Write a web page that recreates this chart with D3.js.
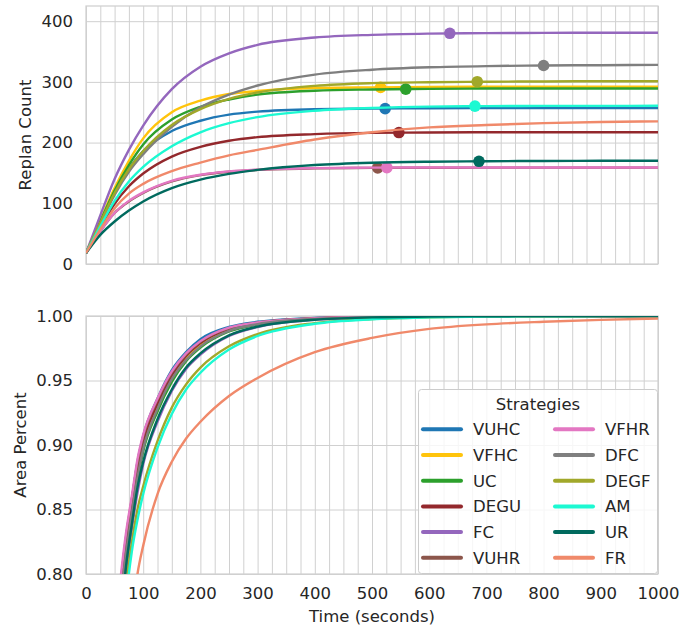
<!DOCTYPE html>
<html>
<head>
<meta charset="utf-8">
<script src="https://cdn.jsdelivr.net/npm/d3@7"></script>
<style>
  html, body { margin: 0; padding: 0; background: #ffffff; }
  svg { display: block; font-family: "DejaVu Sans", sans-serif; }
</style>
</head>
<body>
<svg id="chart" width="680" height="631"></svg>
<script>
// ---- data -------------------------------------------------------------
const strategies = ["VUHC", "VFHC", "UC", "DEGU", "FC", "VUHR", "VFHR", "DFC", "DEGF", "AM", "UR", "FR"];
const strategyColors = ["#1f77b4", "#ffc40c", "#2ca02c", "#93282c", "#9467bd", "#8c564b",
                        "#e377c2", "#7f7f7f", "#a1a82a", "#1cf9d2", "#006a5e", "#f0896a"];

// Replan count over time (seconds)
const replanTimes = [0, 25, 50, 75, 100, 150, 200, 250, 300, 400, 500, 600, 700, 800, 900, 1000];
const replanVUHC = [18, 68, 117, 157, 186, 219, 236, 246, 251, 255, 256, 256.5, 257, 257, 257, 257];
const replanVFHC = [18, 72, 125, 170, 207, 250, 269, 280, 285, 290, 291, 291.5, 292, 292, 292, 292];
const replanUC   = [18, 70, 121, 163, 197, 238, 259, 271, 279, 285.5, 287.5, 288.5, 289, 289, 289, 289];
const replanDEGU = [18, 60, 99, 128, 149, 177, 193, 203, 209, 214, 216, 216.5, 217, 217, 217, 217];
const replanFC   = [18, 80, 140, 188, 228, 288, 325, 347, 361, 373, 377.5, 379.5, 380.3, 380.8, 381, 381];
const replanVUHR = [18, 54, 84, 103, 117, 136, 146.5, 152, 155, 157.5, 158.3, 158.6, 158.7, 158.8, 158.8, 158.8];
const replanVFHR = [18, 54, 84, 104, 118, 137, 147, 152.5, 155.5, 158, 158.8, 159, 159, 159, 159, 159];
const replanDFC  = [18, 67, 114, 152, 181, 226, 258, 279, 294, 312, 320, 324, 326, 327, 327.5, 328];
const replanDEGF = [18, 68, 117, 156, 186, 229, 255, 272, 282.5, 293.5, 298, 299.5, 300.3, 300.7, 301, 301];
const replanAM   = [18, 62, 104, 136, 160, 194, 217, 232, 242, 252.5, 257, 259.3, 260, 260.4, 260.5, 260.6];
const replanUR   = [18, 48, 70, 88, 103, 125, 139, 148.5, 155, 163, 166.8, 168.5, 169.3, 169.7, 170, 170];
const replanFR   = [18, 57, 92, 116, 132, 153, 167, 179, 188, 205, 217, 225, 229, 232, 234, 235];

// Time at which each strategy's marker sits, and its replan count there
const markerTimes  = [523, 515, 559, 547, 636, 510, 526, 800, 684, 680, 687, null];
const markerCounts = [256, 291, 288, 216.5, 380, 158.4, 158.8, 327, 300.3, 260, 169.2, null];

// Fraction of area covered over time (seconds)
const areaTimes = [50, 60, 70, 80, 90, 100, 125, 150, 175, 200, 250, 300, 400, 500, 600, 700, 800, 900, 1000];
const areaVUHC = [0.745, 0.79, 0.828, 0.857, 0.887, 0.907, 0.936, 0.958, 0.972, 0.982, 0.9915, 0.9955, 0.9985, 0.9995, 0.9998, 1, 1, 1, 1];
const areaVFHC = [0.73, 0.782, 0.82, 0.85, 0.878, 0.900, 0.931, 0.953, 0.968, 0.978, 0.9895, 0.9942, 0.998, 0.9992, 0.9997, 0.9999, 1, 1, 1];
const areaUC   = [0.72, 0.775, 0.813, 0.845, 0.873, 0.895, 0.926, 0.949, 0.965, 0.9755, 0.988, 0.9934, 0.9977, 0.9991, 0.9996, 0.9999, 1, 1, 1];
const areaDEGU = [0.735, 0.785, 0.823, 0.853, 0.881, 0.902, 0.932, 0.954, 0.969, 0.979, 0.990, 0.9945, 0.9981, 0.9993, 0.9997, 0.9999, 1, 1, 1];
const areaFC   = [0.70, 0.755, 0.803, 0.835, 0.863, 0.885, 0.918, 0.942, 0.959, 0.970, 0.9845, 0.9915, 0.997, 0.9988, 0.9995, 0.9998, 0.9999, 1, 1];
const areaVUHR = [0.745, 0.79, 0.829, 0.858, 0.886, 0.906, 0.935, 0.956, 0.970, 0.980, 0.9905, 0.9948, 0.9982, 0.9994, 0.9998, 0.9999, 1, 1, 1];
const areaVFHR = [0.75, 0.795, 0.832, 0.86, 0.889, 0.908, 0.936, 0.957, 0.971, 0.9805, 0.991, 0.995, 0.9983, 0.9994, 0.9998, 0.9999, 1, 1, 1];
const areaDFC  = [0.725, 0.778, 0.816, 0.847, 0.875, 0.897, 0.928, 0.951, 0.966, 0.9765, 0.9885, 0.9937, 0.9978, 0.9991, 0.9997, 0.9999, 1, 1, 1];
const areaDEGF = [0.64, 0.73, 0.79, 0.824, 0.85, 0.868, 0.903, 0.929, 0.947, 0.960, 0.9765, 0.986, 0.9945, 0.9977, 0.999, 0.9996, 0.9998, 0.9999, 1];
const areaAM   = [0.63, 0.72, 0.78, 0.817, 0.842, 0.862, 0.898, 0.924, 0.943, 0.956, 0.974, 0.9845, 0.994, 0.9975, 0.9989, 0.9995, 0.9998, 0.9999, 1];
const areaUR   = [0.70, 0.76, 0.806, 0.838, 0.867, 0.887, 0.920, 0.943, 0.960, 0.971, 0.985, 0.9918, 0.9971, 0.9989, 0.9995, 0.9998, 0.9999, 1, 1];
const areaFR   = [0.55, 0.64, 0.71, 0.765, 0.80, 0.822, 0.862, 0.887, 0.905, 0.918, 0.938, 0.952, 0.972, 0.983, 0.990, 0.9935, 0.9955, 0.997, 0.998];

const replanTicks = [0, 100, 200, 300, 400];
const areaTicks = [0.80, 0.85, 0.90, 0.95, 1.00];
const timeTicks = [0, 100, 200, 300, 400, 500, 600, 700, 800, 900, 1000];

const replanSeries = [replanVUHC, replanVFHC, replanUC, replanDEGU, replanFC, replanVUHR,
                      replanVFHR, replanDFC, replanDEGF, replanAM, replanUR, replanFR];
const areaSeries = [areaVUHC, areaVFHC, areaUC, areaDEGU, areaFC, areaVUHR,
                    areaVFHR, areaDFC, areaDEGF, areaAM, areaUR, areaFR];

// ---- layout -----------------------------------------------------------
const svg = d3.select("#chart");
const plotLeft = 86, plotRight = 658;
const topPanel = { y0: 6, y1: 264 };
const botPanel = { y0: 316, y1: 574 };
const gridColor = "#d0d0d0";
const textColor = "#262626";
const fontSize = "16.5px";

const x = d3.scaleLinear().domain([0, 1000]).range([plotLeft, plotRight]);
const yReplan = d3.scaleLinear().domain([0, 425]).range([topPanel.y1, topPanel.y0]);
const yArea = d3.scaleLinear().domain([0.8, 1.0]).range([botPanel.y1, botPanel.y0]);

function drawGrid(panel, yScale, yTicks, id) {
  const g = svg.append("g");
  // vertical grid every 25 seconds
  g.append("g")
    .attr("transform", `translate(0,${panel.y1})`)
    .call(d3.axisBottom(x).tickValues(d3.range(0, 1001, 25)).tickSize(-(panel.y1 - panel.y0)).tickFormat(""))
    .call(a => a.select(".domain").remove())
    .call(a => a.selectAll("line").attr("stroke", gridColor).attr("stroke-width", 1));
  // horizontal grid
  g.append("g")
    .attr("transform", `translate(${plotLeft},0)`)
    .call(d3.axisLeft(yScale).tickValues(yTicks).tickSize(-(plotRight - plotLeft)).tickFormat(""))
    .call(a => a.select(".domain").remove())
    .call(a => a.selectAll("line").attr("stroke", gridColor).attr("stroke-width", 1));
  // frame
  g.append("rect")
    .attr("x", plotLeft).attr("y", panel.y0)
    .attr("width", plotRight - plotLeft).attr("height", panel.y1 - panel.y0)
    .attr("fill", "none").attr("stroke", gridColor).attr("stroke-width", 1.25);
  // clip region
  svg.append("clipPath").attr("id", id)
    .append("rect")
    .attr("x", plotLeft).attr("y", panel.y0)
    .attr("width", plotRight - plotLeft).attr("height", panel.y1 - panel.y0);
}

function drawYLabels(yScale, ticks, fmt) {
  svg.append("g")
    .attr("transform", `translate(${plotLeft},0)`)
    .call(d3.axisLeft(yScale).tickValues(ticks).tickSize(0).tickPadding(13).tickFormat(fmt))
    .call(a => a.select(".domain").remove())
    .call(a => a.selectAll("text").attr("fill", textColor).style("font-size", fontSize)
      .style("font-family", "'DejaVu Sans', sans-serif"));
}

drawGrid(topPanel, yReplan, replanTicks, "clipTop");
drawGrid(botPanel, yArea, areaTicks, "clipBot");

drawYLabels(yReplan, replanTicks, d3.format("d"));
drawYLabels(yArea, areaTicks, d3.format(".2f"));

// x tick labels under the lower panel
svg.append("g")
  .attr("transform", `translate(0,${botPanel.y1})`)
  .call(d3.axisBottom(x).tickValues(timeTicks).tickSize(0).tickPadding(13).tickFormat(d3.format("d")))
  .call(a => a.select(".domain").remove())
  .call(a => a.selectAll("text").attr("fill", textColor).style("font-size", fontSize)
    .style("font-family", "'DejaVu Sans', sans-serif"));

// axis titles
svg.append("text")
  .attr("transform", `translate(25,${(topPanel.y0 + topPanel.y1) / 2}) rotate(-90)`)
  .attr("text-anchor", "middle").attr("dy", "0.35em")
  .attr("fill", textColor).style("font-size", fontSize)
  .text("Replan Count");
svg.append("text")
  .attr("transform", `translate(20,${(botPanel.y0 + botPanel.y1) / 2}) rotate(-90)`)
  .attr("text-anchor", "middle").attr("dy", "0.35em")
  .attr("fill", textColor).style("font-size", fontSize)
  .text("Area Percent");
svg.append("text")
  .attr("x", (plotLeft + plotRight) / 2).attr("y", 622)
  .attr("text-anchor", "middle")
  .attr("fill", textColor).style("font-size", fontSize)
  .text("Time (seconds)");

// ---- series -----------------------------------------------------------
const replanLine = d3.line().curve(d3.curveMonotoneX)
  .x((d, i) => x(replanTimes[i])).y(d => yReplan(d));
const areaLine = d3.line().curve(d3.curveMonotoneX)
  .x((d, i) => x(areaTimes[i])).y(d => yArea(d));

const topLayer = svg.append("g").attr("clip-path", "url(#clipTop)");
strategies.forEach((name, k) => {
  topLayer.append("path")
    .datum(replanSeries[k])
    .attr("d", replanLine)
    .attr("fill", "none")
    .attr("stroke", strategyColors[k])
    .attr("stroke-width", 2.4)
    .attr("stroke-linejoin", "round");
  if (markerTimes[k] !== null) {
    topLayer.append("circle")
      .attr("cx", x(markerTimes[k]))
      .attr("cy", yReplan(markerCounts[k]))
      .attr("r", 5.8)
      .attr("fill", strategyColors[k]);
  }
});

const botLayer = svg.append("g").attr("clip-path", "url(#clipBot)");
strategies.forEach((name, k) => {
  botLayer.append("path")
    .datum(areaSeries[k])
    .attr("d", areaLine)
    .attr("fill", "none")
    .attr("stroke", strategyColors[k])
    .attr("stroke-width", 2.4)
    .attr("stroke-linejoin", "round");
});

// ---- legend -----------------------------------------------------------
const legend = svg.append("g");
legend.append("rect")
  .attr("x", 418.5).attr("y", 389.5).attr("width", 239).attr("height", 184)
  .attr("rx", 3).attr("fill", "#ffffff").attr("fill-opacity", 0.8)
  .attr("stroke", "#cccccc").attr("stroke-width", 1);
legend.append("text")
  .attr("x", 538).attr("y", 410)
  .attr("text-anchor", "middle")
  .attr("fill", textColor).style("font-size", fontSize)
  .text("Strategies");

strategies.forEach((name, k) => {
  const col = Math.floor(k / 6), row = k % 6;
  const lx = col === 0 ? 423 : 555;
  const ly = 429.3 + row * 25.7;
  legend.append("line")
    .attr("x1", lx).attr("x2", lx + 38)
    .attr("y1", ly).attr("y2", ly)
    .attr("stroke", strategyColors[k]).attr("stroke-width", 4)
    .attr("stroke-linecap", "round");
  legend.append("text")
    .attr("x", lx + 50).attr("y", ly + 6)
    .attr("fill", textColor).style("font-size", fontSize)
    .text(name);
});
</script>
</body>
</html>
